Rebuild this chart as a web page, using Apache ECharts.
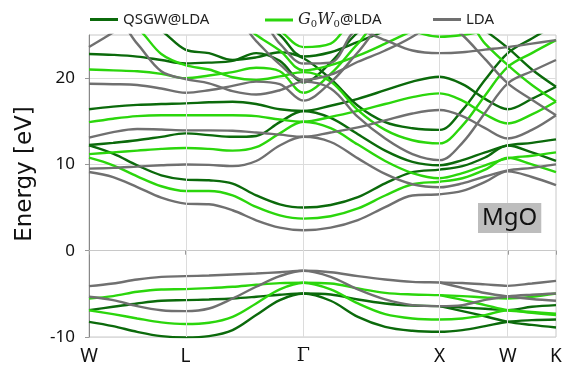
<!DOCTYPE html>
<html><head><meta charset="utf-8">
<script src="https://cdn.jsdelivr.net/npm/echarts@6/dist/echarts.min.js"></script>
<style>html,body{margin:0;padding:0;background:#fff}#chart{width:575px;height:373px}</style>
</head><body><div id="chart"></div>
<script>
// k-path positions (2π/a) along W–L–Γ–X–W–K
const kPath = [0, 0.1768, 0.3536, 0.5303, 0.7071, 0.8803, 1.0535, 1.2267, 1.3999, 1.5731,
  1.7731, 1.9731, 2.1731, 2.3731, 2.5731, 2.7398, 2.9064, 3.0731, 3.2499, 3.4267];
const symPoints = [0, 0.7071, 1.5731, 2.5731, 3.0731, 3.4267];
const symLabels = ['W', 'L', 'Γ', 'X', 'W', 'K'];
const energyTicks = [-10, 0, 10, 20];
const _ = null;

// LDA bands (eV); values above the frame are clipped
const ldaBands = [
  [-4.11,-3.80,-3.34,-3.03,-2.95,-2.87,-2.76,-2.64,-2.49,-2.33,-2.49,-2.95,-3.34,-3.61,-3.68,-3.75,-3.90,-4.07,-3.80,-3.49],
  [-5.34,-5.73,-6.42,-6.90,-7.00,-6.70,-5.54,-4.18,-2.95,-2.33,-3.03,-4.49,-5.65,-6.30,-6.42,-6.30,-5.70,-5.30,-5.10,-4.96],
  [_,_,_,_,_,_,_,_,_,_,_,_,_,_,-3.68,-4.30,-4.90,-5.30,-5.60,-5.80],
  [9.12,8.54,7.38,6.15,5.46,5.38,4.69,3.53,2.68,2.37,2.68,3.55,5.05,6.40,6.54,6.93,7.97,9.20,8.54,7.60],
  [9.51,9.60,9.75,9.90,10.0,9.95,9.80,10.4,12.2,13.2,12.6,10.7,8.9,7.7,7.35,7.8,8.6,9.30,9.60,10.0],
  [13.1,13.75,14.1,14.05,13.95,13.95,13.9,13.7,13.45,13.2,13.7,14.3,15.1,15.9,16.3,15.6,14.2,13.0,14.0,15.7],
  [19.35,19.3,19.2,18.8,18.3,18.6,19.1,19.6,19.3,17.4,19.5,23.0,26.5,27,27,25.0,22.2,19.4,17.5,15.7],
  [27,27,24.0,20.8,19.9,19.4,18.5,18.1,18.6,19.6,18.8,15.5,13.0,11.2,10.5,12.5,16.0,19.4,20.8,22.1],
  [27,27,27,27,27,27,27,24.3,21.6,19.8,20.4,21.9,23.2,24.8,27,_,_,_,_,_],
  [23.6,25.3,27,27,27,27,27,27,24.0,21.7,21.8,25.5,24.4,23.2,22.9,23.0,23.3,23.6,24.0,24.4]
];
// G0W0@LDA bands (eV)
const g0w0Bands = [
  [-5.53,-5.26,-4.76,-4.49,-4.45,-4.34,-4.18,-3.95,-3.76,-3.72,-3.80,-4.38,-4.88,-5.07,-5.15,-5.26,-5.42,-5.53,-5.34,-4.96],
  [-6.90,-7.35,-7.85,-8.31,-8.50,-8.35,-7.66,-6.11,-4.49,-3.72,-4.49,-6.11,-7.35,-7.85,-7.97,-7.85,-7.46,-6.90,-7.20,-7.46],
  [_,_,_,_,_,_,_,_,_,_,_,_,_,_,-5.15,-5.70,-6.30,-6.90,-7.10,-7.30],
  [10.78,9.90,8.62,7.47,6.92,6.92,6.42,5.07,4.10,3.72,4.00,4.90,6.40,7.70,8.00,8.40,9.40,10.78,10.0,9.10],
  [11.2,11.4,11.6,11.8,11.9,11.8,11.6,12.0,13.6,14.95,14.2,12.3,10.4,9.0,8.4,9.0,9.9,10.7,11.0,11.4],
  [14.9,15.3,15.6,15.7,15.7,15.7,15.7,15.6,15.2,14.95,15.5,16.2,17.0,17.8,18.23,17.4,15.8,14.75,15.8,17.3],
  [21.0,20.9,20.8,20.5,20.0,20.3,20.7,21.2,20.8,18.3,20.5,24.0,27,27,27,27,24.0,21.5,19.2,17.3],
  [27,27,25.8,22.8,21.5,21.0,20.1,19.8,20.2,20.7,19.6,16.3,14.0,12.8,12.44,14.5,18.0,21.3,22.9,24.4],
  [27,27,27,27,27,27,27,25.0,23.2,20.9,21.5,22.6,24.0,25.5,27,_,_,_,_,_],
  [25.3,27,27,27,27,27,27,27,25.5,23.6,24.0,27,27,25.5,24.8,25.0,25.5,26,26.5,27]
];
// QSGW@LDA bands (eV)
const qsgwBands = [
  [-6.88,-6.50,-6.11,-5.80,-5.73,-5.65,-5.54,-5.34,-5.11,-4.96,-5.07,-5.65,-6.11,-6.35,-6.42,-6.58,-6.73,-6.88,-6.50,-6.31],
  [-8.24,-8.74,-9.40,-9.90,-10.05,-9.90,-9.20,-7.46,-5.73,-4.96,-5.80,-7.66,-8.82,-9.28,-9.40,-9.20,-8.74,-8.24,-8.05,-7.97],
  [_,_,_,_,_,_,_,_,_,_,_,_,_,_,-6.42,-7.00,-7.60,-8.24,-8.60,-8.90],
  [12.2,11.25,9.90,8.74,8.24,8.16,7.78,6.42,5.38,5.00,5.30,6.20,7.80,9.10,9.40,9.80,10.8,12.2,11.4,10.4],
  [12.25,12.5,12.8,13.2,13.6,13.4,13.2,13.3,14.9,16.2,15.4,13.5,11.6,10.3,9.9,10.5,11.4,12.2,12.5,12.9],
  [16.4,16.7,16.9,17.0,17.07,17.2,17.27,17.0,16.4,16.2,16.8,17.6,18.6,19.6,20.16,19.3,17.6,16.4,17.6,19.0],
  [22.8,22.7,22.5,22.1,21.7,21.8,22.0,22.9,22.0,19.5,21.8,25.3,27,27,27,27,25.5,23.5,21.0,19.0],
  [27,27,27,25.5,23.3,22.9,22.1,22.4,23.0,22.3,19.9,16.8,14.9,14.2,14.0,16.3,19.8,22.9,24.6,26.2],
  [27,27,27,27,27,27,27,27,25.0,22.5,23.0,24.2,25.5,27,27,_,_,_,_,_]
];

const QS = 'QSGW@LDA', GW = 'G0W0@LDA', LD = 'LDA';
const colors = { [QS]: '#0b6a0b', [GW]: '#2bd60c', [LD]: '#707070' };

function bandSeries(name, bands, z) {
  return bands.map(b => ({
    name, type: 'line', z, silent: true, showSymbol: false, smooth: 0.35, clip: true,
    data: b.map((e, i) => [kPath[i], e === null ? '-' : e]),
    lineStyle: { color: colors[name], width: 2.4 },
    itemStyle: { color: colors[name] }
  }));
}

// vertical lines at the high-symmetry points
const symLines = {
  type: 'line', data: [], z: 1, silent: true,
  markLine: {
    silent: true, symbol: ['none', 'none'], label: { show: false },
    lineStyle: { color: '#dcdcdc', width: 1, type: 'solid' },
    data: symPoints.slice(1, -1).map(v => ({ xAxis: v }))
  }
};

const legendBase = {
  top: 7, icon: 'rect', itemWidth: 28, itemHeight: 3, itemGap: 10,
  textStyle: { fontSize: 15, color: '#222', fontFamily: 'Noto Sans' }
};

const chart = echarts.init(document.getElementById('chart'));
chart.setOption({
  animation: false,
  grid: { left: 89, right: 19, top: 35, bottom: 36, show: true, borderColor: '#c8c8c8', borderWidth: 1 },
  title: {
    text: 'MgO', left: 478, top: 203, padding: [3, 4, 3, 4], backgroundColor: '#bdbdbd',
    textStyle: { fontSize: 24, fontWeight: 'normal', color: '#111', fontFamily: 'Noto Sans' }
  },
  legend: [
    Object.assign({}, legendBase, { left: 85, data: [QS] }),
    Object.assign({}, legendBase, { left: 260, data: [GW],
      formatter: () => '{i|G}{s|0}{i|W}{s|0}{n|@LDA}',
      textStyle: { fontSize: 15, color: '#222', fontFamily: 'Noto Sans',
        rich: {
          i: { fontFamily: 'DejaVu Serif', fontStyle: 'italic', fontSize: 16, color: '#222' },
          s: { fontFamily: 'DejaVu Serif', fontSize: 10, color: '#222', padding: [8, 0, 0, 0] },
          n: { fontFamily: 'Noto Sans', fontSize: 15, color: '#222' }
        } } }),
    Object.assign({}, legendBase, { left: 428, data: [LD] })
  ],
  xAxis: {
    type: 'value', min: 0, max: symPoints[symPoints.length - 1],
    axisLine: { show: true, lineStyle: { color: '#c8c8c8' } },
    axisTick: { show: true, customValues: symPoints, length: 4, lineStyle: { color: '#999' } },
    splitLine: { show: false },
    axisLabel: {
      customValues: symPoints, margin: 10,
      formatter: v => {
        let idx = 0, best = Infinity;
        symPoints.forEach((p, i) => { if (Math.abs(p - v) < best) { best = Math.abs(p - v); idx = i; } });
        const s = symLabels[idx];
        return s === 'Γ' ? '{g|Γ}' : s;
      },
      fontSize: 19, color: '#111', fontFamily: 'Noto Sans',
      rich: { g: { fontFamily: 'DejaVu Serif', fontSize: 19, color: '#111' } }
    }
  },
  yAxis: {
    type: 'value', min: -10, max: 25, interval: 10,
    name: 'Energy [eV]', nameLocation: 'middle', nameGap: 52,
    nameTextStyle: { fontSize: 23, color: '#111', fontFamily: 'DejaVu Sans', padding: [0, 0, 0, 24] },
    axisLine: { show: true, lineStyle: { color: '#888' } },
    axisTick: { show: true, customValues: energyTicks, length: 4, lineStyle: { color: '#999' } },
    axisLabel: { customValues: energyTicks, fontSize: 17, color: '#111', fontFamily: 'Noto Sans', margin: 14 },
    splitLine: { show: true, lineStyle: { color: '#dcdcdc', width: 1 } }
  },
  series: [symLines]
    .concat(bandSeries(QS, qsgwBands, 2))
    .concat(bandSeries(GW, g0w0Bands, 3))
    .concat(bandSeries(LD, ldaBands, 4))
});
</script></body></html>
